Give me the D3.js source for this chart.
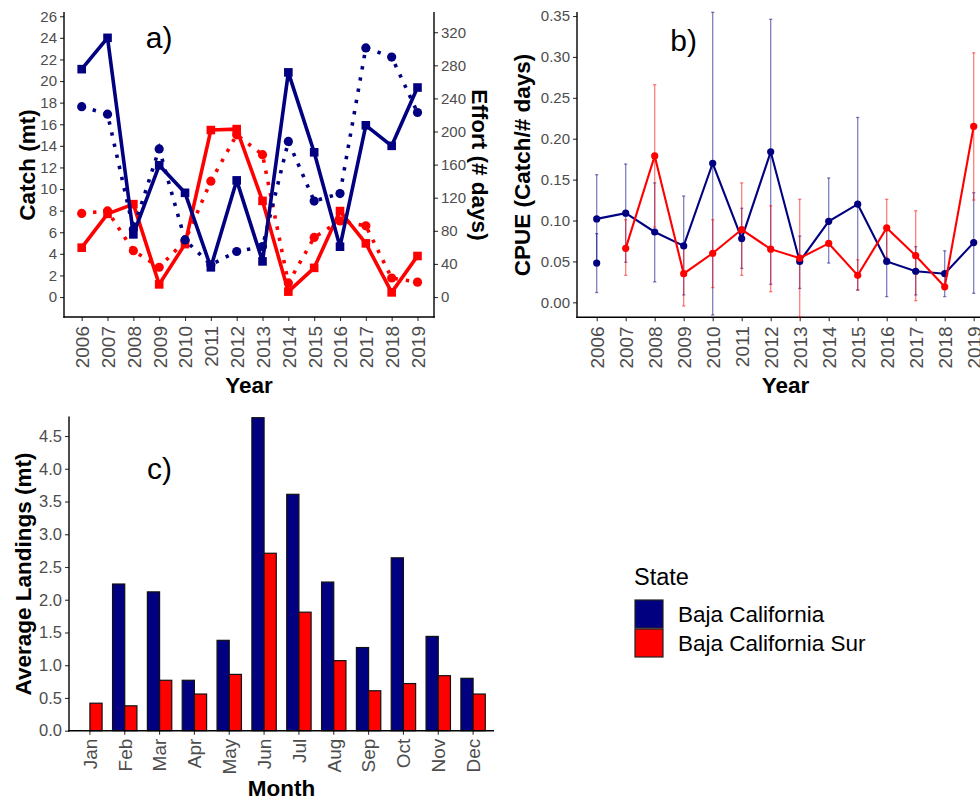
<!DOCTYPE html>
<html>
<head>
<meta charset="utf-8">
<script src="https://cdnjs.cloudflare.com/ajax/libs/d3/7.8.5/d3.min.js"></script>
<style>
  body { margin: 0; background: #fff; }
  svg { font-family: "Liberation Sans", Arial, Helvetica, sans-serif; }
</style>
</head>
<body>
<div id="chart"></div>
<script>
// ---- data ----
var years = [2006, 2007, 2008, 2009, 2010, 2011, 2012, 2013, 2014, 2015, 2016, 2017, 2018, 2019]

// panel a: catch (mt, solid + squares) and effort (# days, dotted + circles)
var catchBC  = [21.1, 24.0, 5.8, 12.2, 9.65, 2.75, 10.8, 3.3, 20.8, 13.4, 4.66, 15.9, 14.0, 19.4]
var catchBCS = [4.57, 7.7, 8.6, 1.17, 4.9, 15.46, 15.55, 8.9, 0.5, 2.7, 7.96, 4.97, 0.43, 3.8]
var effortBC  = [230, 221, 82, 179, 69, 39, 55, 61, 188, 116, 125, 301, 290, 223]
var effortBCS = [101, 104, 56, 36, 68, 140, 196, 172, 17, 72, 92, 86, 23, 18]
var effortRatio = 13.05

// panel b: CPUE with error bars
var cpueBC     = [0.102, 0.109, 0.086, 0.069, 0.170, 0.078, 0.184, 0.050, 0.099, 0.120, 0.050, 0.038, 0.035, 0.073]
var cpueBCLow  = [0.048, 0.049, 0.025, 0.009, -0.0155, 0.0415, 0.022, 0.017, 0.048, 0.015, 0.007, 0.009, 0.007, 0.011]
var cpueBCHigh = [0.156, 0.169, 0.146, 0.130, 0.3545, 0.115, 0.346, 0.081, 0.152, 0.226, 0.093, 0.068, 0.063, 0.134]
var cpueBCExtra = [0.048, 0.012, 0.084]   // second 2006 point: value, low, high

var cpueYearsBCS = [2007, 2008, 2009, 2010, 2011, 2012, 2013, 2014, 2015, 2016, 2017, 2018, 2019]
var cpueBCS     = [0.066, 0.179, 0.035, 0.060, 0.089, 0.065, 0.054, 0.072, 0.033, 0.091, 0.057, 0.019, 0.215]
var cpueBCSLow  = [0.033, 0.092, -0.0045, 0.018, 0.033, 0.013, -0.018, 0.072, 0.015, 0.055, 0.002, 0.019, 0.125]
var cpueBCSHigh = [0.101, 0.266, 0.072, 0.101, 0.146, 0.118, 0.126, 0.072, 0.052, 0.126, 0.112, 0.019, 0.305]

// panel c: average monthly landings
var months = ["Jan", "Feb", "Mar", "Apr", "May", "Jun", "Jul", "Aug", "Sep", "Oct", "Nov", "Dec"]
var landBC  = [0, 2.24, 2.12, 0.77, 1.38, 4.78, 3.61, 2.27, 1.27, 2.64, 1.44, 0.80]
var landBCS = [0.42, 0.38, 0.77, 0.56, 0.86, 2.71, 1.81, 1.07, 0.61, 0.72, 0.84, 0.56]

var states = ["Baja California", "Baja California Sur"]
var stateColors = ["#000080", "#ff0000"]

var tickGrey = "#4d4d4d"

var svg = d3.select("#chart").append("svg")
  .attr("width", 980)
  .attr("height", 800)

function styleAxis(g, size) {
  g.select(".domain").remove()
  g.selectAll(".tick line").attr("stroke", "#333").attr("stroke-width", 1.1)
  g.selectAll(".tick text").attr("fill", tickGrey).style("font-size", size + "px")
}

function rotateLabels(g, gap) {
  g.selectAll(".tick text")
    .attr("transform", "rotate(-90)")
    .attr("x", -gap)
    .attr("y", 0)
    .attr("dy", "0.36em")
    .style("text-anchor", "end")
}

function axisLine(x1, y1, x2, y2) {
  svg.append("line")
    .attr("x1", x1).attr("y1", y1).attr("x2", x2).attr("y2", y2)
    .attr("stroke", "#000").attr("stroke-width", 1.4)
}

function title(text, x, y, rot) {
  svg.append("text")
    .attr("transform", "translate(" + x + "," + y + ")" + (rot ? " rotate(" + rot + ")" : ""))
    .attr("text-anchor", "middle")
    .style("font-size", "22.5px")
    .style("font-weight", "bold")
    .text(text)
}

function panelLabel(text, x, y) {
  svg.append("text")
    .attr("x", x).attr("y", y)
    .attr("text-anchor", "middle")
    .attr("dy", "0.35em")
    .style("font-size", "30px")
    .text(text)
}

// ================= panel a =================
var xA = d3.scalePoint().domain(years).range([81.7, 417.5])
var yA = d3.scaleLinear().domain([-1.85, 26.3]).range([317, 13])
var yEff = d3.scaleLinear().domain([-1.85 * effortRatio, 26.3 * effortRatio]).range([317, 13])

svg.append("g")
  .attr("transform", "translate(64,0)")
  .call(d3.axisLeft(yA).tickValues(d3.range(0, 27, 2)).tickSize(4).tickPadding(3))
  .call(styleAxis, 15)

svg.append("g")
  .attr("transform", "translate(434,0)")
  .call(d3.axisRight(yEff).tickValues(d3.range(0, 321, 40)).tickSize(4).tickPadding(3))
  .call(styleAxis, 15)

svg.append("g")
  .attr("transform", "translate(0,317)")
  .call(d3.axisBottom(xA).tickSize(4))
  .call(styleAxis, 19)
  .call(rotateLabels, 9)

axisLine(64, 12, 64, 317.7)
axisLine(434, 12, 434, 317.7)
axisLine(63.3, 317, 434.7, 317)

var catchLine = d3.line().x(function (d, i) { return xA(years[i]) }).y(function (d) { return yA(d) })
var effortLine = d3.line().x(function (d, i) { return xA(years[i]) }).y(function (d) { return yEff(d) })

var catchSets = [catchBC, catchBCS]
var effortSets = [effortBC, effortBCS]

// draw BCS first, BC on top
;[1, 0].forEach(function (s) {
  svg.append("path")
    .datum(effortSets[s])
    .attr("d", effortLine)
    .attr("fill", "none")
    .attr("stroke", stateColors[s])
    .attr("stroke-width", 3.6)
    .attr("stroke-dasharray", "3.4 8")

  svg.selectAll(".effpt" + s)
    .data(effortSets[s])
    .enter().append("circle")
    .attr("cx", function (d, i) { return xA(years[i]) })
    .attr("cy", function (d) { return yEff(d) })
    .attr("r", 4.6)
    .attr("fill", stateColors[s])

  svg.append("path")
    .datum(catchSets[s])
    .attr("d", catchLine)
    .attr("fill", "none")
    .attr("stroke", stateColors[s])
    .attr("stroke-width", 3.6)
    .attr("stroke-linejoin", "round")

  svg.selectAll(".catchpt" + s)
    .data(catchSets[s])
    .enter().append("rect")
    .attr("x", function (d, i) { return xA(years[i]) - 4.3 })
    .attr("y", function (d) { return yA(d) - 4.3 })
    .attr("width", 8.6)
    .attr("height", 8.6)
    .attr("fill", stateColors[s])
})

panelLabel("a)", xA(2009), yA(24))
title("Catch (mt)", 35, 165, -90)
title("Effort (# days)", 472, 165, 90)
title("Year", 249, 393)

// ================= panel b =================
var xB = d3.scalePoint().domain(years).range([596.7, 973.7])
var yB = d3.scaleLinear().domain([-0.0183, 0.3537]).range([317.3, 13])

svg.append("g")
  .attr("transform", "translate(577,0)")
  .call(d3.axisLeft(yB).tickValues(d3.range(0, 0.351, 0.05)).tickFormat(d3.format(".2f")).tickSize(4).tickPadding(3))
  .call(styleAxis, 15)

svg.append("g")
  .attr("transform", "translate(0,317.3)")
  .call(d3.axisBottom(xB).tickSize(4))
  .call(styleAxis, 19)
  .call(rotateLabels, 9)

axisLine(577, 12, 577, 318)
axisLine(576.3, 317.3, 995, 317.3)

function errorBars(xs, lows, highs, color) {
  var g = svg.append("g").attr("stroke", color).attr("stroke-opacity", 0.5).attr("stroke-width", 1.3)
  xs.forEach(function (yr, i) {
    if (highs[i] - lows[i] < 0.001) return
    var x = xB(yr)
    g.append("line").attr("x1", x).attr("x2", x).attr("y1", yB(lows[i])).attr("y2", yB(highs[i]))
    g.append("line").attr("x1", x - 1.6).attr("x2", x + 1.6).attr("y1", yB(lows[i])).attr("y2", yB(lows[i]))
    g.append("line").attr("x1", x - 1.6).attr("x2", x + 1.6).attr("y1", yB(highs[i])).attr("y2", yB(highs[i]))
  })
}

errorBars(years, cpueBCLow, cpueBCHigh, "#000080")
errorBars([2006], [cpueBCExtra[1]], [cpueBCExtra[2]], "#000080")
errorBars(cpueYearsBCS, cpueBCSLow, cpueBCSHigh, "#ff0000")

var cpueLine = d3.line().x(function (d) { return xB(d[0]) }).y(function (d) { return yB(d[1]) })

var cpueSets = [
  years.map(function (y, i) { return [y, cpueBC[i]] }),
  cpueYearsBCS.map(function (y, i) { return [y, cpueBCS[i]] })
]

;[0, 1].forEach(function (s) {
  svg.append("path")
    .datum(cpueSets[s])
    .attr("d", cpueLine)
    .attr("fill", "none")
    .attr("stroke", stateColors[s])
    .attr("stroke-width", 2.1)

  svg.selectAll(".cpuept" + s)
    .data(cpueSets[s])
    .enter().append("circle")
    .attr("cx", function (d) { return xB(d[0]) })
    .attr("cy", function (d) { return yB(d[1]) })
    .attr("r", 3.6)
    .attr("fill", stateColors[s])
})

svg.append("circle")
  .attr("cx", xB(2006))
  .attr("cy", yB(cpueBCExtra[0]))
  .attr("r", 3.6)
  .attr("fill", "#000080")

panelLabel("b)", xB(2009), yB(0.32))
title("CPUE (Catch/# days)", 530, 165, -90)
title("Year", 785.5, 393)

// ================= panel c =================
var xC = d3.scaleBand().domain(months).range([69, 494]).paddingInner(0.3).paddingOuter(0.25)
var xSub = d3.scaleBand().domain(states).range([0, xC.bandwidth()])
var yC = d3.scaleLinear().domain([0, 4.78]).range([730.7, 417.7])

svg.append("g")
  .attr("transform", "translate(69,0)")
  .call(d3.axisLeft(yC).tickValues(d3.range(0, 4.51, 0.5)).tickFormat(d3.format(".1f")).tickSize(4).tickPadding(3))
  .call(styleAxis, 16.5)

var landSets = [landBC, landBCS]

months.forEach(function (m, i) {
  states.forEach(function (st, s) {
    var v = landSets[s][i]
    if (v <= 0) return
    svg.append("rect")
      .attr("x", xC(m) + xSub(st))
      .attr("y", yC(v))
      .attr("width", xSub.bandwidth())
      .attr("height", yC(0) - yC(v))
      .attr("fill", stateColors[s])
      .attr("stroke", "#111")
      .attr("stroke-width", 1.2)
  })
})

svg.append("g")
  .attr("transform", "translate(0,730.7)")
  .call(d3.axisBottom(xC).tickSize(4))
  .call(styleAxis, 19)
  .call(rotateLabels, 8)

axisLine(69, 416.5, 69, 731.4)
axisLine(68.3, 730.7, 494, 730.7)

panelLabel("c)", xC("Mar") + xC.bandwidth() / 2, yC(4.0))
title("Average Landings (mt)", 31, 574, -90)
title("Month", 281.5, 796)

// ================= legend =================
var legend = svg.append("g").attr("transform", "translate(634,0)")

legend.append("text")
  .attr("x", 0).attr("y", 585)
  .style("font-size", "23.5px")
  .text("State")

states.forEach(function (st, s) {
  legend.append("rect")
    .attr("x", 1).attr("y", 600 + s * 29)
    .attr("width", 28).attr("height", 28)
    .attr("fill", stateColors[s])
    .attr("stroke", "#222")
    .attr("stroke-width", 1.2)
  legend.append("text")
    .attr("x", 44).attr("y", 614 + s * 29)
    .attr("dy", "0.35em")
    .style("font-size", "22.5px")
    .text(st)
})
</script>
</body>
</html>
